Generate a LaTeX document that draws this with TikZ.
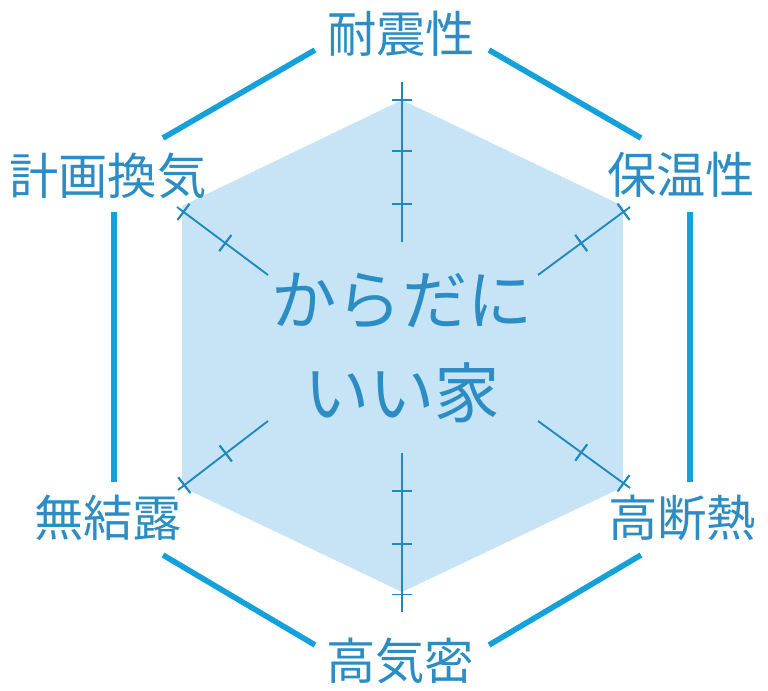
\documentclass[tikz,border=0pt]{standalone}
\usepackage{fontspec}
\setmainfont{Noto Sans CJK JP}
\usetikzlibrary{decorations.markings}

\definecolor{framecol}{HTML}{14A0DB}
\definecolor{textcol}{HTML}{2B8DC4}
\definecolor{fillcol}{HTML}{C6E4F6}
\definecolor{axiscol}{HTML}{2088C0}

\begin{document}
\begin{tikzpicture}[
  x=0.75pt, y=-0.75pt,
  frame/.style={draw=framecol, line width=4.2pt},
  axisline/.style={draw=axiscol, line width=1.4pt},
  tickmark/.style={decoration={markings, mark=at position #1 with {\draw[axisline] (0,-7.5pt) -- (0,7.5pt);}}, postaction={decorate}},
  vaxis/.style={axisline, tickmark=0.24, tickmark=0.57, tickmark=0.89},
  daxis/.style={axisline, tickmark=0.47, tickmark=0.93},
  lbl/.style={text=textcol, inner sep=0pt, font=\fontsize{37pt}{44pt}\selectfont},
  title/.style={text=textcol, inner sep=0pt, align=center, font=\fontsize{49pt}{70pt}\selectfont}
]
  \useasboundingbox (0,0) rectangle (768,690);

  % inner hexagon
  \fill[fillcol] (402,100) -- (623,206) -- (623,487) -- (402,592) -- (182,487) -- (182,206) -- cycle;

  % axes
  \draw[vaxis] (402,242) -- (402,82);
  \draw[vaxis] (402,453) -- (402,612);
  \draw[daxis] (268,275) -- (177,207);
  \draw[daxis] (538,275) -- (630,207);
  \draw[daxis] (268,421) -- (178,490);
  \draw[daxis] (538,421) -- (630,488);

  % outer frame
  \draw[frame] (163,138) -- (315,50);
  \draw[frame] (489,50) -- (641,138);
  \draw[frame] (114,212) -- (114,482);
  \draw[frame] (690,212) -- (690,482);
  \draw[frame] (163,555) -- (315,645);
  \draw[frame] (489,645) -- (641,555);

  % labels
  \node[lbl] (taishin) at (401,34) {耐震性};
  \node[lbl] (hoon) at (681,175) {保温性};
  \node[lbl] (dannetsu) at (682,518) {高断熱};
  \node[lbl] (kimitsu) at (400,661) {高気密};
  \node[lbl] (muketsuro) at (108,518) {無結露};
  \node[lbl] (kanki) at (108,176) {計画換気};

  \node[title] (catch) at (402,348) {からだに\\いい家};
\end{tikzpicture}
\end{document}
